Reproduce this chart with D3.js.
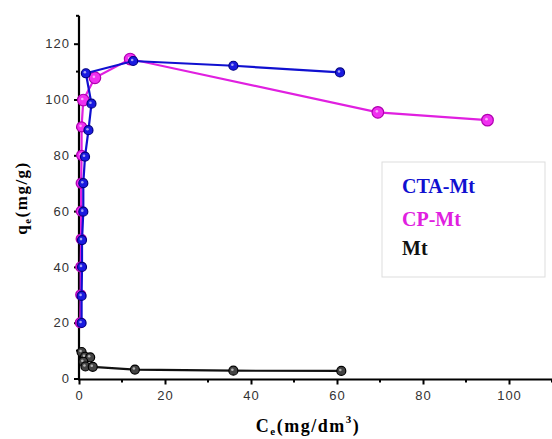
<!DOCTYPE html>
<html><head><meta charset="utf-8">
<script src="https://cdn.jsdelivr.net/npm/d3@7/dist/d3.min.js"></script>
<style>body{margin:0;background:#fff}svg{display:block}</style>
</head><body>
<svg id="c" width="552" height="439"></svg>
<script>
const xTicks = [0, 20, 40, 60, 80, 100];
const yTicks = [0, 20, 40, 60, 80, 100, 120];
const xMinor = [10, 30, 50, 70, 90, 110];
const yMinor = [10, 30, 50, 70, 90, 110, 130];
const seriesNames = ["CTA-Mt", "CP-Mt", "Mt"];
const seriesColors = ["#1010d0", "#e020e0", "#111111"];
const ctaX = [0.6, 0.6, 0.7, 0.7, 1.0, 1.0, 1.4, 2.2, 2.9, 1.6, 12.6, 35.9, 60.7];
const ctaY = [19.9, 29.6, 40.0, 49.6, 59.8, 70.0, 79.5, 89.0, 98.5, 109.4, 113.8, 112.1, 109.7];
const cpX = [0.3, 0.4, 0.4, 0.5, 0.5, 0.5, 0.6, 0.6, 1.0, 3.7, 11.9, 69.5, 95.0];
const cpY = [20.0, 30.0, 40.0, 50.0, 60.0, 70.0, 80.0, 90.2, 99.8, 107.8, 114.5, 95.4, 92.6];
const mtX = [0.6, 1.4, 2.6, 1.0, 1.5, 3.2, 13.0, 35.9, 61.0];
const mtY = [9.5, 7.8, 7.6, 6.0, 4.3, 4.2, 3.2, 2.8, 2.7];

const svg = d3.select("#c");
const x = d3.scaleLinear().domain([0, 110]).range([79, 552]);
const y = d3.scaleLinear().domain([0, 130]).range([378.5, 15.8]);

// axes
const xAxis = d3.axisBottom(x).tickValues(xTicks).tickSize(5).tickPadding(6).tickSizeOuter(0);
const yAxis = d3.axisLeft(y).tickValues(yTicks).tickSize(5).tickPadding(4).tickSizeOuter(0);
const gx = svg.append("g").attr("transform", "translate(0,379.5)").call(xAxis);
const gy = svg.append("g").attr("transform", "translate(79,0)").call(yAxis);
[gx, gy].forEach(g => {
  g.select(".domain").attr("stroke", "#000").attr("stroke-width", 2.2);
  g.selectAll(".tick line").attr("stroke", "#000").attr("stroke-width", 2);
  g.selectAll(".tick text").attr("fill", "#333").style("font-family", "Arial, 'Liberation Sans', sans-serif").style("font-size", "13px").style("letter-spacing", "1px");
});
gy.select(".domain").attr("d", `M0,${y(130)}V379.5`);
gx.select(".domain").attr("d", `M78,0H552`);
svg.append("g").selectAll("line").data(xMinor).join("line")
  .attr("x1", d => x(d)).attr("x2", d => x(d)).attr("y1", 379.5).attr("y2", 382.5)
  .attr("stroke", "#000").attr("stroke-width", 2);
svg.append("g").selectAll("line").data(yMinor).join("line")
  .attr("x1", 79).attr("x2", 76).attr("y1", d => y(d)).attr("y2", d => y(d))
  .attr("stroke", "#000").attr("stroke-width", 2);

// series
const series = [
  {name: seriesNames[0], color: seriesColors[0], fill: "#1a1ae0", stroke: "#000080", pts: ctaX.map((v, i) => [v, ctaY[i]]), r: 4.5},
  {name: seriesNames[1], color: seriesColors[1], fill: "#f030f0", stroke: "#b000b0", pts: cpX.map((v, i) => [v, cpY[i]]), r: 5},
  {name: seriesNames[2], color: seriesColors[2], fill: "#444", stroke: "#000", pts: mtX.map((v, i) => [v, mtY[i]]), r: 4.5}
];
const line = d3.line().x(d => x(d[0])).y(d => y(d[1]));
[series[1], series[0], series[2]].forEach(s => {
  const g = svg.append("g");
  g.append("path").attr("d", line(s.pts)).attr("fill", "none")
    .attr("stroke", s.color).attr("stroke-width", 2.2);
  g.selectAll("circle").data(s.pts).join("circle")
    .attr("cx", d => x(d[0])).attr("cy", d => y(d[1]))
    .attr("r", (d, i) => s.name === "CP-Mt" && i >= 8 ? 5.8 : s.r)
    .attr("fill", s.fill).attr("stroke", s.stroke).attr("stroke-width", 1.2);
  g.selectAll("circle.h").data(s.pts).join("circle").attr("class", "h")
    .attr("cx", d => x(d[0]) - 1).attr("cy", d => y(d[1]) - 1)
    .attr("r", 1.3).attr("fill", "#fff").attr("opacity", 0.6);
});

// legend
svg.append("rect").attr("x", 382).attr("y", 162).attr("width", 163).attr("height", 115)
  .attr("fill", "#fff").attr("stroke", "#ddd").attr("stroke-width", 1);
const legY = [193, 226, 255];
svg.append("g").selectAll("text").data(series).join("text")
  .attr("x", 402).attr("y", (d, i) => legY[i])
  .attr("fill", d => d.color)
  .style("font-family", "'Liberation Serif', 'Times New Roman', serif")
  .style("font-weight", "bold").style("font-size", "20px")
  .text(d => d.name);

// axis titles
const xt = svg.append("text").attr("x", 308).attr("y", 432).attr("text-anchor", "middle")
  .style("font-family", "'Liberation Serif', 'Times New Roman', serif")
  .style("font-weight", "bold").style("font-size", "18px").style("letter-spacing", "1.5px");
xt.append("tspan").text("C");
xt.append("tspan").attr("dy", 3).style("font-size", "11px").text("e");
xt.append("tspan").attr("dy", -3).text("(mg/dm");
xt.append("tspan").attr("dy", -9).style("font-size", "11px").text("3");
xt.append("tspan").attr("dy", 9).text(")");

const yt = svg.append("text").attr("transform", "translate(27,198) rotate(-90)").attr("text-anchor", "middle")
  .style("font-family", "'Liberation Serif', 'Times New Roman', serif")
  .style("font-weight", "bold").style("font-size", "17px").style("letter-spacing", "1.5px");
yt.append("tspan").text("q");
yt.append("tspan").attr("dy", 4).style("font-size", "11px").text("e");
yt.append("tspan").attr("dy", -4).text("(mg/g)");
</script>
</body></html>
